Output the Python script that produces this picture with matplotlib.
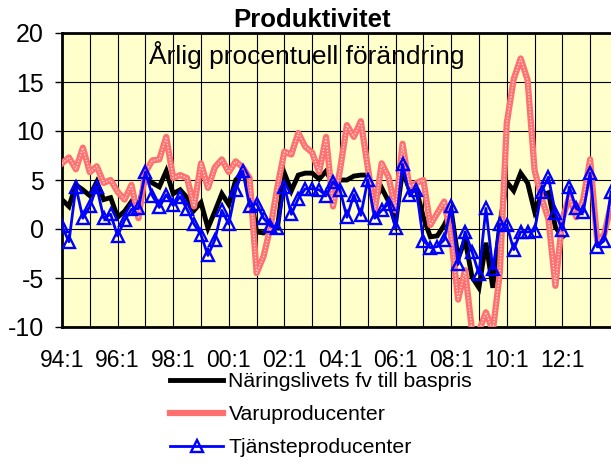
import numpy as np
import matplotlib
matplotlib.use('Agg')
import matplotlib.pyplot as plt

plt.rcParams['font.family'] = ['Liberation Sans', 'DejaVu Sans']
plt.rcParams['axes.unicode_minus'] = False

# kvartal 94:1 - 13:4
naringsliv = [3.0, 2.3, 4.5, 4.0, 3.4, 4.8, 3.0, 3.2, 1.2, 1.8, 2.8, 2.3, 5.2, 4.7, 4.3, 5.9,
              3.6, 4.0, 3.2, 1.9, 2.7, 0.1, 1.8, 3.6, 2.5, 5.0, 5.8, 4.2, -0.3, -0.4, 0.2, 0.1,
              5.7, 3.9, 5.5, 5.7, 5.7, 5.1, 5.9, 4.6, 5.0, 5.0, 5.4, 5.5, 5.5, 3.0, 4.2, 2.8,
              0.6, 6.0, 4.0, 4.0, 1.2, -0.8, -0.7, 0.4, 1.9, -3.0, -1.1, -4.9, -6.0, -1.4, -6.0, 0.5,
              4.8, 3.9, 5.7, 4.7, 1.8, 3.4, 3.7, 0.2, -0.8]
varu = [6.7, 7.3, 6.1, 8.3, 5.8, 6.4, 4.7, 5.0, 3.8, 3.0, 4.5, 1.1, 5.8, 7.0, 7.1, 9.4,
        5.2, 5.5, 5.2, 2.3, 6.7, 4.2, 6.3, 7.1, 5.8, 6.9, 6.3, 5.2, -4.5, -2.8, 0.2, 4.3,
        7.9, 7.6, 9.8, 8.4, 7.8, 5.8, 9.4, 2.3, 6.0, 10.6, 9.4, 11.0, 6.3, 1.8, 6.7, 5.3,
        1.9, 8.7, 4.3, 4.7, 5.0, 0.4, 1.6, 2.8, -0.8, -7.2, -4.2, -10.4, -10.4, -8.5, -10.4, -4.5,
        10.8, 15.3, 17.4, 15.2, 6.0, 3.2, 1.0, -5.8, 1.0, 3.3, 1.2, 3.0, 7.1, -1.2, -0.6, 2.5]
tjanste = [0.3, -1.3, 4.3, 1.1, 2.3, 4.3, 1.1, 1.5, -0.7, 0.9, 2.0, 2.1, 5.8, 3.4, 2.2, 3.5,
           2.4, 3.3, 2.0, 0.5, -0.6, -2.7, -1.1, 1.9, 0.5, 4.0, 5.9, 2.3, 2.6, 1.1, 0.3, 0.1,
           4.3, 1.5, 3.1, 4.1, 4.1, 4.0, 3.4, 4.8, 4.0, 1.2, 3.5, 1.4, 5.0, 1.1, 1.9, 2.6,
           0.1, 6.6, 3.5, 4.0, -1.2, -1.9, -1.8, -1.1, 2.3, -3.6, -0.3, -2.3, -4.6, 2.1, -4.1, 0.5,
           0.4, -2.1, -0.3, -0.3, -0.2, 3.8, 5.3, 1.6, -0.1, 4.3, 2.1, 1.7, 5.7, -1.8, -1.2, 3.8]
xlabels = ['94:1', '96:1', '98:1', '00:1', '02:1', '04:1', '06:1', '08:1', '10:1', '12:1']

fig = plt.figure(figsize=(6.11, 4.66), dpi=100)
ax = fig.add_axes([62/611, 1 - 327/466, 1 - 62/611, (327 - 33)/466])
ax.set_facecolor('#FFFFCC')

ax.plot(np.arange(len(naringsliv)), naringsliv, color='black', lw=3.5,
        solid_joinstyle='miter', label='Näringslivets fv till baspris', zorder=3)
ax.plot(np.arange(len(varu)), varu, color='#FF7070', lw=4.5,
        label='Varuproducenter', zorder=4)
ax.plot(np.arange(len(varu)), varu, color='white', lw=1.0, ls=(0, (1, 1.2)),
        alpha=0.7, zorder=4)
ax.plot(np.arange(len(tjanste)), tjanste, color='#0000FF', lw=2, marker='^',
        ms=8, mfc='none', mec='#0000FF', mew=1.7, label='Tjänsteproducenter', zorder=5)

ax.set_xlim(0, 79)
ax.set_ylim(-10, 20)
ax.set_yticks(np.arange(-10, 21, 5))
ax.set_xticks(np.arange(0, 79, 4), minor=True)
ax.set_xticks(np.arange(0, 73, 8))
ax.set_xticklabels(xlabels)
ax.grid(True, which='both', color='black', lw=0.8)
ax.grid(False, axis='y', which='minor')
ax.tick_params(axis='y', labelsize=18, length=5, width=1, pad=8)
ax.tick_params(axis='x', which='both', labelsize=16.5, length=0, pad=16)

for s in ['left', 'top', 'bottom']:
    ax.spines[s].set_linewidth(2)
ax.spines['right'].set_visible(False)

fig.text(312/611, 1 - 27/466, 'Produktivitet', fontsize=18.5, fontweight='bold',
         ha='center', va='baseline')
ax.text(149/611, 1 - 64/466, 'Årlig procentuell förändring', transform=fig.transFigure,
        fontsize=19, ha='left', va='baseline', zorder=6)

handles, labels = ax.get_legend_handles_labels()
fig.legend(handles, labels, loc='upper left', bbox_to_anchor=(170/611, 1 - 372/466),
           frameon=False, fontsize=15.3, handlelength=2.5, handletextpad=0.25,
           labelspacing=0.66, borderpad=0, borderaxespad=0)

fig.savefig('out.png', dpi=100)
